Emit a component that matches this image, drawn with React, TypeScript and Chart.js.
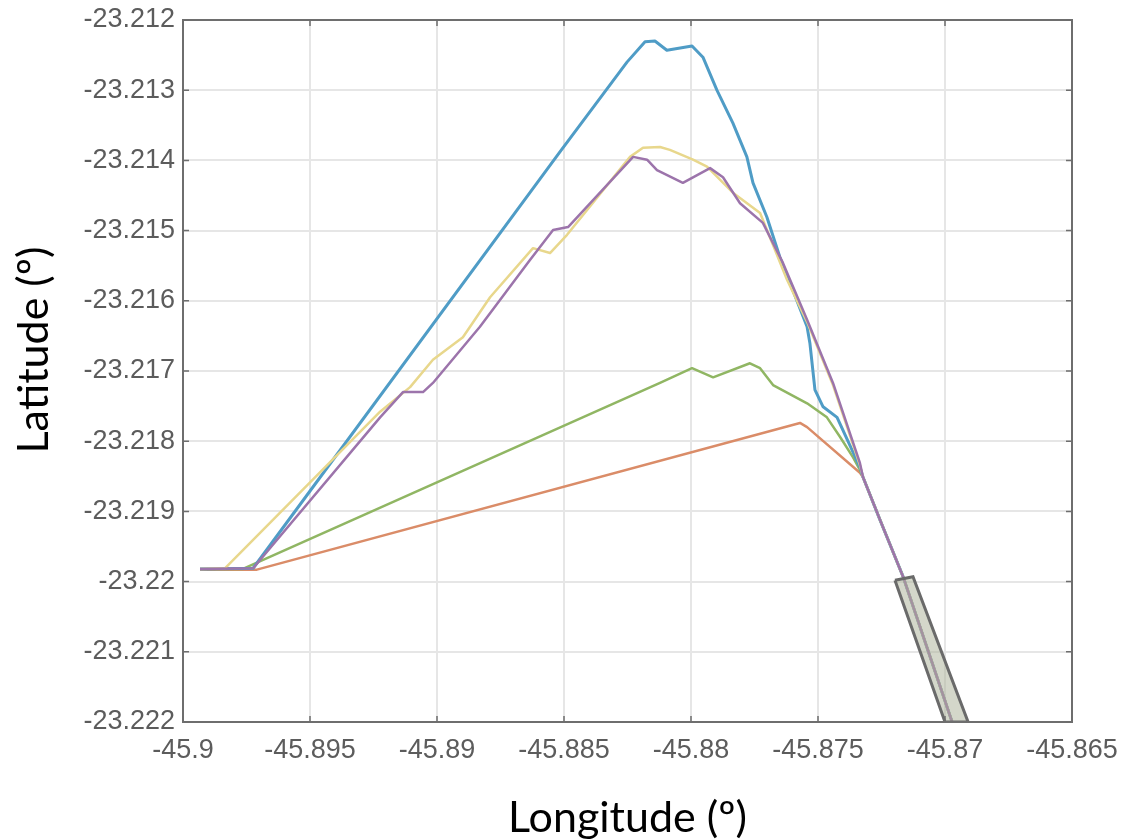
import React, { useEffect, useRef } from "react";
import { Chart, registerables } from "chart.js";

Chart.register(...registerables);

// Axis ticks
const xTickValues = [-45.9, -45.895, -45.89, -45.885, -45.88, -45.875, -45.87, -45.865];
const xTickLabels = ["-45.9", "-45.895", "-45.89", "-45.885", "-45.88", "-45.875", "-45.87", "-45.865"];
const yTickValues = [-23.222, -23.221, -23.22, -23.219, -23.218, -23.217, -23.216, -23.215, -23.214, -23.213, -23.212];
const yTickLabels = ["-23.222", "-23.221", "-23.22", "-23.219", "-23.218", "-23.217", "-23.216", "-23.215", "-23.214", "-23.213", "-23.212"];

const xTitle = "Longitude (º)";
const yTitle = "Latitude (º)";

// Shared descending trunk (all trajectories end here)
const trunkLon = [-45.87323, -45.87256, -45.87165, -45.86972];
const trunkLat = [-23.21851, -23.21912, -23.21993, -23.222];

// Blue trajectory
const blueLon = [-45.89933, -45.89724, -45.88516, -45.88252, -45.88181, -45.88142, -45.88095, -45.87996, -45.87953, -45.87898, -45.87835, -45.8778, -45.87756, -45.87701, -45.8765, -45.87543, -45.87532, -45.87512, -45.8748, -45.87425, -45.87335];
const blueLat = [-23.21982, -23.21981, -23.21388, -23.2126, -23.21231, -23.2123, -23.21243, -23.21237, -23.21253, -23.213, -23.21347, -23.21395, -23.21432, -23.21481, -23.21538, -23.21637, -23.2166, -23.21727, -23.21751, -23.21766, -23.21837];

// Purple trajectory
const purpleLon = [-45.89933, -45.89724, -45.89224, -45.89134, -45.89055, -45.89016, -45.88831, -45.88634, -45.88543, -45.88484, -45.88228, -45.88173, -45.88134, -45.88032, -45.87925, -45.87874, -45.87807, -45.87717, -45.87638, -45.87543, -45.87441, -45.87335];
const purpleLat = [-23.21982, -23.21981, -23.21766, -23.2173, -23.2173, -23.21717, -23.21637, -23.21542, -23.21499, -23.21495, -23.21395, -23.21399, -23.21414, -23.21432, -23.21411, -23.21424, -23.21461, -23.21489, -23.21546, -23.21627, -23.21717, -23.21831];

// Yellow trajectory
const yellowLon = [-45.89933, -45.89835, -45.89224, -45.89106, -45.89016, -45.88898, -45.88791, -45.88622, -45.88555, -45.88488, -45.8824, -45.88189, -45.88122, -45.88083, -45.87992, -45.87937, -45.87835, -45.87728, -45.87622, -45.87543, -45.87441, -45.87335];
const yellowLat = [-23.21982, -23.21981, -23.21758, -23.21723, -23.21684, -23.21652, -23.21595, -23.21525, -23.21532, -23.21506, -23.21395, -23.21382, -23.21381, -23.21385, -23.21399, -23.21409, -23.21446, -23.21475, -23.2157, -23.2163, -23.2172, -23.21834];

// Green trajectory
const greenLon = [-45.89933, -45.89764, -45.88122, -45.87996, -45.87913, -45.87768, -45.87728, -45.87677, -45.87543, -45.87465, -45.87413, -45.87362, -45.87335];
const greenLat = [-23.21982, -23.21982, -23.21717, -23.21696, -23.21709, -23.21689, -23.21696, -23.2172, -23.21746, -23.21766, -23.21794, -23.21823, -23.21841];

// Orange trajectory
const orangeLon = [-45.89933, -45.89709, -45.87571, -45.87543, -45.87335];
const orangeLat = [-23.21983, -23.21983, -23.21774, -23.2178, -23.21845];

// Gray outlined region at the end of the trajectories
const boxLon = [-45.87197, -45.87126, -45.86909, -45.87, -45.87197];
const boxLat = [-23.21998, -23.21993, -23.222, -23.222, -23.21998];

const toPts = (lon: number[], lat: number[]) => lon.map((v, i) => ({ x: v, y: lat[i] }));
const withTrunk = (lon: number[], lat: number[]) => toPts(lon.concat(trunkLon), lat.concat(trunkLat));

const framePlugin = {
  id: "frameTicks",
  afterDatasetsDraw(chart: any) {
    const { ctx, chartArea } = chart;
    const { left, right, top, bottom } = chartArea;
    const xs = chart.scales.x;
    const ys = chart.scales.y;
    ctx.save();
    ctx.strokeStyle = "#6e6e6e";
    ctx.lineWidth = 2;
    ctx.strokeRect(left, top, right - left, bottom - top);
    ctx.lineWidth = 1.5;
    ctx.beginPath();
    xs.ticks.forEach((t: any) => {
      const px = xs.getPixelForValue(t.value);
      ctx.moveTo(px, bottom);
      ctx.lineTo(px, bottom - 6);
      ctx.moveTo(px, top);
      ctx.lineTo(px, top + 6);
    });
    ys.ticks.forEach((t: any) => {
      const py = ys.getPixelForValue(t.value);
      ctx.moveTo(left, py);
      ctx.lineTo(left + 6, py);
      ctx.moveTo(right, py);
      ctx.lineTo(right - 6, py);
    });
    ctx.stroke();

    // Y axis title (rotated), placed slightly above the axis middle
    ctx.fillStyle = "#000000";
    ctx.font = "43px Lato, 'Open Sans', sans-serif";
    ctx.textAlign = "center";
    ctx.textBaseline = "middle";
    ctx.translate(34, top + (bottom - top) * 0.47);
    ctx.rotate(-Math.PI / 2);
    ctx.fillText(yTitle, 0, 0);
    ctx.restore();
  },
};

const lineDs = (label: string, data: any[], color: string, width: number) => ({
  label,
  data,
  showLine: true,
  borderColor: color,
  backgroundColor: color,
  borderWidth: width,
  borderJoinStyle: "round",
  pointRadius: 0,
  tension: 0,
  fill: false,
});

export default function App() {
  const ref = useRef<HTMLCanvasElement | null>(null);

  useEffect(() => {
    if (!ref.current) return;
    const chart = new Chart(ref.current, {
      type: "scatter",
      data: {
        datasets: [
          {
            label: "region",
            data: toPts(boxLon, boxLat),
            showLine: true,
            borderColor: "#6a6a6a",
            backgroundColor: "rgba(170,176,150,0.5)",
            borderWidth: 3,
            pointRadius: 0,
            tension: 0,
            fill: "shape",
          } as any,
          lineDs("purple", withTrunk(purpleLon, purpleLat), "#9c74ab", 2.5),
          lineDs("yellow", withTrunk(yellowLon, yellowLat), "#e8d78c", 2.5),
          lineDs("blue", withTrunk(blueLon, blueLat), "#4f9cc6", 3),
          lineDs("green", withTrunk(greenLon, greenLat), "#90b663", 2.5),
          lineDs("orange", withTrunk(orangeLon, orangeLat), "#da8c68", 2.5),
        ],
      },
      options: {
        animation: false,
        responsive: false,
        layout: { padding: { top: 20, right: 50, bottom: 0, left: 0 } },
        plugins: {
          legend: { display: false },
          tooltip: { enabled: false },
        },
        scales: {
          x: {
            type: "linear",
            min: -45.9,
            max: -45.865,
            afterBuildTicks: (scale: any) => {
              scale.ticks = xTickValues.map((v) => ({ value: v }));
            },
            afterFit: (scale: any) => {
              scale.height = 118;
              scale.paddingLeft = 0;
              scale.paddingRight = 0;
            },
            grid: { color: "#e6e6e6", lineWidth: 2, drawTicks: false },
            border: { display: false },
            ticks: {
              padding: 12,
              maxRotation: 0,
              autoSkip: false,
              color: "#5c5c5c",
              font: { family: "'Liberation Sans', Arial, sans-serif", size: 27 },
              callback: (_v: any, i: number) => xTickLabels[i],
            },
            title: {
              display: true,
              text: xTitle,
              color: "#000000",
              font: { family: "Lato, 'Open Sans', sans-serif", size: 43, lineHeight: 1.0 },
              padding: { top: 0, bottom: 0 },
            },
          },
          y: {
            type: "linear",
            min: -23.222,
            max: -23.212,
            afterBuildTicks: (scale: any) => {
              scale.ticks = yTickValues.map((v) => ({ value: v }));
            },
            afterFit: (scale: any) => {
              scale.width = 183;
              scale.paddingTop = 0;
              scale.paddingBottom = 0;
            },
            grid: { color: "#e6e6e6", lineWidth: 2, drawTicks: false },
            border: { display: false },
            ticks: {
              padding: 8,
              autoSkip: false,
              color: "#5c5c5c",
              font: { family: "'Liberation Sans', Arial, sans-serif", size: 27 },
              callback: (_v: any, i: number) => yTickLabels[i],
            },
            title: { display: false },
          },
        },
      },
      plugins: [framePlugin],
    });
    return () => chart.destroy();
  }, []);

  return (
    <div style={{ position: "absolute", left: 0, top: 0, width: 1122, height: 840, background: "#ffffff" }}>
      <canvas ref={ref} width={1122} height={840} style={{ display: "block" }} />
    </div>
  );
}
